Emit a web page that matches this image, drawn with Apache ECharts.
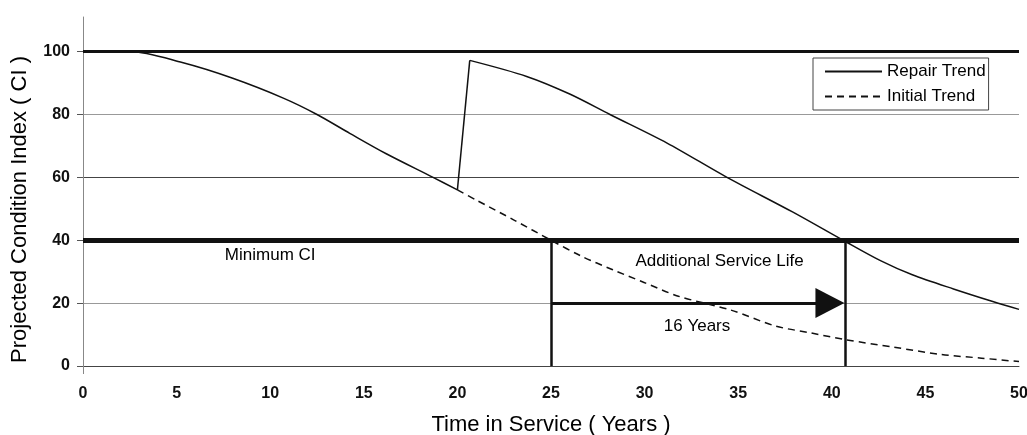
<!DOCTYPE html>
<html>
<head>
<meta charset="utf-8">
<script src="https://cdn.jsdelivr.net/npm/echarts@6/dist/echarts.min.js"></script>
<style>
  html, body { margin: 0; padding: 0; background: #fff; }
  #chart { width: 1027px; height: 435px; }
</style>
</head>
<body>
<div id="chart"></div>
<script>
// tick values
const yearTicks = [0, 5, 10, 15, 20, 25, 30, 35, 40, 45, 50];
const ciTicks = [0, 20, 40, 60, 80, 100];

// [year, CI]
// repair trend: decay before the repair, the repair jump, decay after it
const repairBefore = [
  [0, 100], [2.5, 100], [5.3, 96.5], [8, 91.5], [10.7, 85.2], [12.5, 80], [14.25, 74],
  [16.2, 67.5], [18.7, 60], [20, 56]
];
const repairJump = [[20, 56], [20.66, 97.2]];
const repairAfter = [
  [20.66, 97.2], [23.7, 92.1], [26, 86.5], [28.15, 80], [31.2, 70.9], [34.4, 60],
  [37.9, 49], [40.6, 40], [42.6, 33.5], [44.3, 29], [46.5, 24.5], [48.6, 20.5], [50, 18]
];
const initialTrend = [
  [20, 56], [21, 52.8], [23, 46.5], [25, 40], [26.6, 35], [28.3, 30.6], [30, 26.5],
  [31.8, 22.2], [34.6, 17.8], [37, 12.7], [38.9, 10.5], [40.8, 8.3], [43.3, 6], [45.8, 3.7],
  [48, 2.5], [50, 1.4]
];

const topCI = 100;
const minimumCI = 40;
const startYear = 25;      // initial trend hits minimum CI
const endYear = 40.7;      // repair trend hits minimum CI
const arrowCI = 20;
const arrowTipYear = 39.9;

// [year, CI, text]
const notes = [
  [10, 35.3, 'Minimum CI'],
  [34, 33.4, 'Additional Service Life'],
  [32.8, 12.5, '16 Years']
];

const font = 'Liberation Sans, Arial, sans-serif';
const ink = '#000';
const chart = echarts.init(document.getElementById('chart'), null, { renderer: 'canvas' });

const repairStyle = { color: '#111', width: 1.5 };
const repairPart = (data, smooth) => ({
  name: 'Repair Trend',
  type: 'line',
  data: data,
  symbol: 'none',
  smooth: smooth,
  lineStyle: repairStyle,
  itemStyle: { color: '#111' },
  z: 3
});

const option = {
  animation: false,
  backgroundColor: '#fff',
  textStyle: { fontFamily: font },
  grid: { left: 83, right: 8, top: 17, bottom: 69, outerBoundsMode: 'none' },
  legend: {
    data: ['Repair Trend', 'Initial Trend'],
    orient: 'vertical',
    left: 813,
    top: 58,
    padding: [5, 3, 5, 11],
    itemWidth: 57,
    itemHeight: 14,
    itemGap: 8,
    borderColor: '#444',
    borderWidth: 1,
    itemStyle: { color: 'transparent', borderColor: 'transparent', borderWidth: 0 },
    textStyle: { fontSize: 17, color: ink, fontFamily: font }
  },
  xAxis: {
    type: 'value',
    min: 0,
    max: 50,
    interval: 5,
    name: 'Time in Service ( Years )',
    nameLocation: 'middle',
    nameGap: 48,
    nameTextStyle: { fontSize: 22, color: ink, fontFamily: font },
    axisLine: { lineStyle: { color: '#444', width: 1 } },
    axisTick: { show: true, customValues: [0], length: 8, lineStyle: { color: '#888' } },
    axisLabel: { margin: 20, fontSize: 16, fontWeight: 'bold', color: '#111', fontFamily: font, customValues: yearTicks },
    splitLine: { show: false }
  },
  yAxis: {
    type: 'value',
    min: 0,
    max: 111,
    interval: 20,
    name: 'Projected Condition Index ( CI )',
    nameLocation: 'middle',
    nameGap: 52,
    nameTextStyle: { fontSize: 22, color: ink, fontFamily: font, padding: [0, 36, 0, 0] },
    axisLine: { show: true, lineStyle: { color: '#888', width: 1 } },
    axisTick: { show: true, customValues: ciTicks, length: 6, lineStyle: { color: '#555' } },
    axisLabel: { margin: 13, fontSize: 16, fontWeight: 'bold', color: '#111', fontFamily: font, customValues: ciTicks },
    splitLine: {
      show: true,
      showMaxLine: false,
      lineStyle: { color: ['#444', '#999', '#444', '#444', '#999', '#222'], width: 1 }
    }
  },
  series: [
    repairPart(repairBefore, 0.3),
    repairPart(repairJump, false),
    repairPart(repairAfter, 0.3),
    {
      name: 'Initial Trend',
      type: 'line',
      data: initialTrend,
      symbol: 'none',
      smooth: 0.3,
      lineStyle: { color: '#111', width: 1.5, type: [7, 5] },
      itemStyle: { color: '#111' },
      z: 3
    },
    {
      name: 'guides',
      type: 'line',
      data: [],
      symbol: 'none',
      z: 4,
      markLine: {
        silent: true,
        symbol: 'none',
        label: { show: false },
        data: [
          { yAxis: topCI, lineStyle: { color: '#111', width: 3, type: 'solid' } },
          { yAxis: minimumCI, lineStyle: { color: '#111', width: 5, type: 'solid' } },
          [
            { coord: [startYear, 0], lineStyle: { color: '#111', width: 2.5, type: 'solid' } },
            { coord: [startYear, minimumCI] }
          ],
          [
            { coord: [endYear, 0], lineStyle: { color: '#111', width: 2.5, type: 'solid' } },
            { coord: [endYear, minimumCI] }
          ],
          [
            { coord: [startYear, arrowCI], symbol: 'none', lineStyle: { color: '#111', width: 3, type: 'solid' } },
            { coord: [arrowTipYear, arrowCI], symbol: 'triangle', symbolSize: [30, 29] }
          ]
        ]
      }
    },
    {
      name: 'notes',
      type: 'scatter',
      data: notes,
      symbolSize: 0,
      silent: true,
      z: 5,
      itemStyle: { opacity: 1 },
      label: {
        show: true,
        position: 'inside',
        formatter: (p) => p.value[2],
        fontSize: 17,
        color: ink,
        opacity: 1,
        fontFamily: font
      }
    }
  ]
};

chart.setOption(option);
</script>
</body>
</html>
